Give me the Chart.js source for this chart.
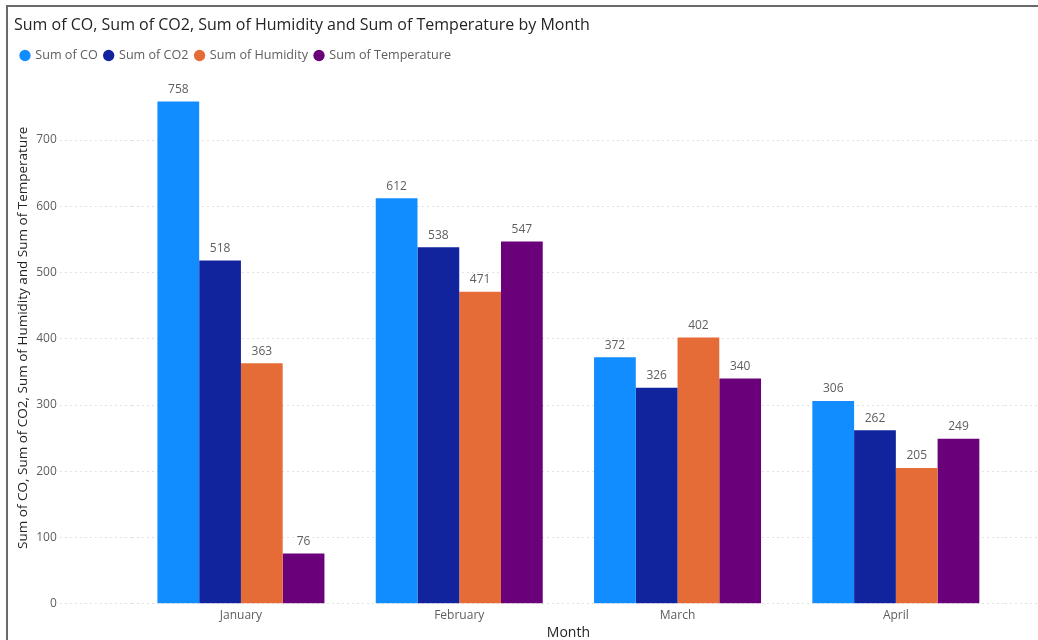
<!DOCTYPE html>
<html>
<head>
<meta charset="utf-8">
<script src="https://cdn.jsdelivr.net/npm/chart.js@4"></script>
<style>
  html, body { margin: 0; padding: 0; background: #fff; }
  #wrap { position: relative; width: 1038px; height: 640px; overflow: hidden; }
  #frame { position: absolute; left: 6px; top: 5px; right: -10px; bottom: -10px;
           border-left: 2px solid #6a6a6a; border-top: 2px solid #6a6a6a; pointer-events: none; }
  canvas { position: absolute; left: 0; top: 0; }
</style>
</head>
<body>
<div id="wrap">
  <canvas id="chart" width="1038" height="640"></canvas>
  <div id="frame"></div>
</div>
<script>
// Datos del gráfico
const months = ['January', 'February', 'March', 'April'];
const sumCO = [758, 612, 372, 306];
const sumCO2 = [518, 538, 326, 262];
const sumHumidity = [363, 471, 402, 205];
const sumTemperature = [76, 547, 340, 249];
const yTicks = [0, 100, 200, 300, 400, 500, 600, 700];
const yMax = 803;

const FONT = "'Open Sans', 'Noto Sans', sans-serif";
const gridColor = 'rgba(200, 200, 200, 0.55)';

// Etiquetas de datos encima de cada barra
const barLabels = {
    id: 'barLabels',
    afterDatasetsDraw(chart) {
        const ctx = chart.ctx;
        ctx.save();
        ctx.font = '12px ' + FONT;
        ctx.fillStyle = '#605E5C';
        ctx.textAlign = 'center';
        ctx.textBaseline = 'bottom';
        chart.data.datasets.forEach((ds, i) => {
            chart.getDatasetMeta(i).data.forEach((bar, j) => {
                ctx.fillText(ds.data[j], bar.x, bar.y - 6);
            });
        });
        ctx.restore();
    }
};

// Usar solo los ticks definidos arriba
function setTicks(axis) {
    axis.ticks = yTicks.map(v => ({ value: v }));
}

const ctx = document.getElementById('chart').getContext('2d');
const chart = new Chart(ctx, {
    type: 'bar',
    data: {
        labels: months,
        datasets: [
            { label: 'Sum of CO', data: sumCO, backgroundColor: '#118DFF' },
            { label: 'Sum of CO2', data: sumCO2, backgroundColor: '#12239E' },
            { label: 'Sum of Humidity', data: sumHumidity, backgroundColor: '#E66C37' },
            { label: 'Sum of Temperature', data: sumTemperature, backgroundColor: '#6B007B' }
        ]
    },
    options: {
        responsive: false,
        animation: false,
        events: [],
        layout: { padding: { left: 14, right: 0, top: 5, bottom: -1 } },
        datasets: {
            bar: { barPercentage: 1.0, categoryPercentage: 0.765, borderWidth: 0 }
        },
        plugins: {
            title: {
                display: true,
                text: 'Sum of CO, Sum of CO2, Sum of Humidity and Sum of Temperature by Month',
                align: 'start',
                color: '#252423',
                font: { family: FONT, size: 16, weight: 'normal' },
                padding: { top: 11, bottom: 7 }
            },
            legend: {
                display: true,
                align: 'start',
                labels: {
                    usePointStyle: true,
                    pointStyle: 'circle',
                    boxWidth: 8,
                    boxHeight: 8,
                    padding: 7,
                    color: '#605E5C',
                    font: { family: FONT, size: 12.6 }
                }
            },
            tooltip: { enabled: false }
        },
        scales: {
            x: {
                grid: { display: false, drawTicks: false },
                border: { display: false },
                ticks: { color: '#605E5C', font: { family: FONT, size: 12 }, padding: 5 },
                title: {
                    display: true,
                    text: 'Month',
                    color: '#252423',
                    font: { family: FONT, size: 14 },
                    padding: { top: -4, bottom: 0 }
                }
            },
            y: {
                min: 0,
                max: yMax,
                afterBuildTicks: setTicks,
                ticks: {
                    color: '#605E5C',
                    font: { family: FONT, size: 12 },
                    padding: 3
                },
                grid: {
                    color: gridColor,
                    tickColor: gridColor,
                    borderDash: [2, 3],
                    tickBorderDash: [2, 3],
                    tickLength: 72
                },
                border: { display: false, dash: [2, 3] },
                title: {
                    display: true,
                    text: 'Sum of CO, Sum of CO2, Sum of Humidity and Sum of Temperature',
                    color: '#252423',
                    font: { family: FONT, size: 13.5 },
                    padding: { top: 1, bottom: 2 }
                }
            },
            yRight: {
                position: 'right',
                min: 0,
                max: yMax,
                afterBuildTicks: setTicks,
                ticks: { display: false },
                grid: {
                    drawOnChartArea: false,
                    tickColor: gridColor,
                    tickBorderDash: [2, 3],
                    tickLength: 33
                },
                border: { display: false }
            }
        }
    },
    plugins: [barLabels]
});
</script>
</body>
</html>
